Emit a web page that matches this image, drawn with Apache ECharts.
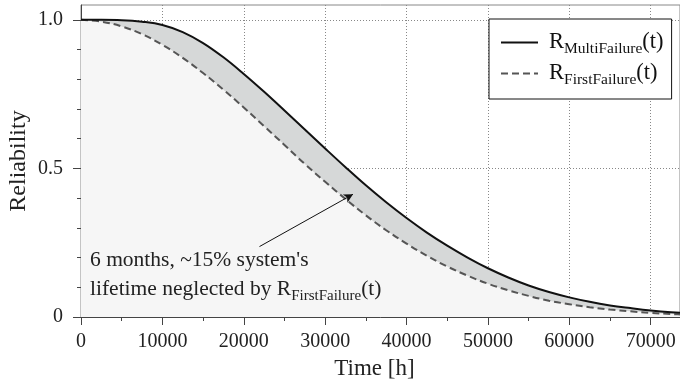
<!DOCTYPE html>
<html><head><meta charset="utf-8">
<script src="https://cdn.jsdelivr.net/npm/echarts@6/dist/echarts.min.js"></script>
<style>html,body{margin:0;padding:0;background:#fff}#c{width:680px;height:389px}</style>
</head><body><div id="c"></div>
<script>
const times = [0,2500,5000,7500,10000,12500,15000,17500,20000,22500,25000,27500,30000,32500,35000,37500,40000,42500,45000,47500,50000,52500,55000,57500,60000,62500,65000,67500,70000,72500,75000];
const multiFailure = [1.000,1.000,0.999,0.994,0.983,0.959,0.922,0.874,0.818,0.758,0.695,0.631,0.567,0.504,0.443,0.386,0.333,0.284,0.240,0.200,0.164,0.133,0.106,0.084,0.066,0.051,0.039,0.030,0.022,0.016,0.012];
const firstFailure = [1.000,0.994,0.978,0.952,0.916,0.872,0.821,0.765,0.705,0.642,0.579,0.515,0.455,0.397,0.342,0.292,0.247,0.206,0.170,0.139,0.112,0.090,0.071,0.055,0.043,0.033,0.025,0.019,0.014,0.010,0.007];
const xMajorTicks = [0,10000,20000,30000,40000,50000,60000,70000];
const xMinorTicks = [5000,15000,25000,35000,45000,55000,65000];
const yMajorTicks = [0,0.5,1.0];
const yMinorTicks = [0.1,0.2,0.3,0.4,0.6,0.7,0.8,0.9];
const arrowFrom = [21930,0.237];
const arrowTo = [33420,0.413];

const FONT = '"Liberation Serif", serif';
const pairs = arr => times.map((t,i)=>[t,arr[i]]);
const chart = echarts.init(document.getElementById('c'));
chart.setOption({
  animation:false,
  backgroundColor:'#fff',
  grid:{left:81,right:0,top:5,bottom:72,show:true,borderColor:'#888',borderWidth:1,backgroundColor:'transparent',
    containLabel:false,outerBoundsMode:'none'},
  legend:{
    orient:'vertical',left:489,top:19,
    padding:[12,8,11,11],itemGap:5,itemWidth:37,itemHeight:14,
    borderColor:'#111',borderWidth:1,backgroundColor:'#fff',borderRadius:0,
    itemStyle:{color:'rgba(0,0,0,0)',borderWidth:0},
    data:['R_MultiFailure(t)','R_FirstFailure(t)'],
    formatter:n=>n==='R_MultiFailure(t)'?'{r|R}{s|MultiFailure}{r|(t)}':'{r|R}{s|FirstFailure}{r|(t)}',
    textStyle:{padding:[0,0,0,6],rich:{
      r:{fontFamily:FONT,fontSize:22.5,lineHeight:29,color:'#111'},
      s:{fontFamily:FONT,fontSize:15.5,lineHeight:15,verticalAlign:'bottom',color:'#111'}
    }}
  },
  xAxis:[{
    type:'value',min:0,max:73600,interval:10000,
    name:'Time [h]',nameLocation:'middle',nameGap:40,
    nameTextStyle:{fontFamily:FONT,fontSize:23,color:'#222',padding:[0,12,0,0]},
    axisLine:{show:true,lineStyle:{color:'#444',width:1}},
    axisTick:{show:true,length:8,customValues:xMajorTicks,lineStyle:{color:'#444'}},
    axisLabel:{customValues:xMajorTicks,fontFamily:FONT,fontSize:20,color:'#222',margin:15,formatter:v=>String(v)},
    splitLine:{show:true,lineStyle:{color:'#888',type:[1,2],width:1}}
  },{
    type:'value',min:0,max:73600,position:'bottom',
    axisLine:{show:false},
    axisTick:{show:true,length:4,customValues:xMinorTicks,lineStyle:{color:'#444'}},
    axisLabel:{show:false},splitLine:{show:false}
  }],
  yAxis:[{
    type:'value',min:0,max:1.05,interval:0.5,
    name:'Reliability',nameLocation:'middle',nameGap:50,nameRotate:90,nameMoveOverlap:false,
    nameTextStyle:{fontFamily:FONT,fontSize:24,color:'#222'},
    axisLine:{show:true,lineStyle:{color:'#444',width:1}},
    axisTick:{show:true,length:8,customValues:yMajorTicks,lineStyle:{color:'#444'}},
    axisLabel:{customValues:yMajorTicks,fontFamily:FONT,fontSize:20,color:'#222',margin:18,
      formatter:v=>v===0?'0':v.toFixed(1)},
    splitLine:{show:true,lineStyle:{color:'#888',type:[1,2],width:1}}
  },{
    type:'value',min:0,max:1.05,position:'left',
    axisLine:{show:false},
    axisTick:{show:true,length:4,customValues:yMinorTicks,lineStyle:{color:'#444'}},
    axisLabel:{show:false},splitLine:{show:false}
  }],
  graphic:[{
    type:'text',left:90,top:249,z:100,
    style:{
      text:'{r|6 months, ~15% system\'s}\n{r|lifetime neglected by R}{s|FirstFailure}{r|(t)}',
      rich:{
        r:{fontFamily:FONT,fontSize:21.5,lineHeight:29,fill:'#222'},
        s:{fontFamily:FONT,fontSize:15,lineHeight:15,verticalAlign:'bottom',fill:'#222'}
      }
    }
  }],
  series:[
    {name:'fillMulti',type:'line',data:pairs(multiFailure),smooth:0.4,symbol:'none',
     lineStyle:{width:0},areaStyle:{color:'#d6d8d8',opacity:1},z:1,silent:true},
    {name:'fillFirst',type:'line',data:pairs(firstFailure),smooth:0.4,symbol:'none',
     lineStyle:{width:0},areaStyle:{color:'#f6f6f6',opacity:1},z:2,silent:true},
    {name:'R_MultiFailure(t)',type:'line',data:pairs(multiFailure),smooth:0.4,symbol:'none',
     lineStyle:{color:'#111',width:2},itemStyle:{color:'#111'},z:4},
    {name:'R_FirstFailure(t)',type:'line',data:pairs(firstFailure),smooth:0.4,symbol:'none',
     lineStyle:{color:'#555',width:2,type:[7,4]},itemStyle:{color:'#555'},z:3,
     markLine:{silent:true,symbol:['none','arrow'],symbolSize:[7,9],label:{show:false},
       lineStyle:{color:'#111',width:1,type:'solid'},
       data:[[{coord:arrowFrom},{coord:arrowTo}]]}}
  ]
});
</script></body></html>
